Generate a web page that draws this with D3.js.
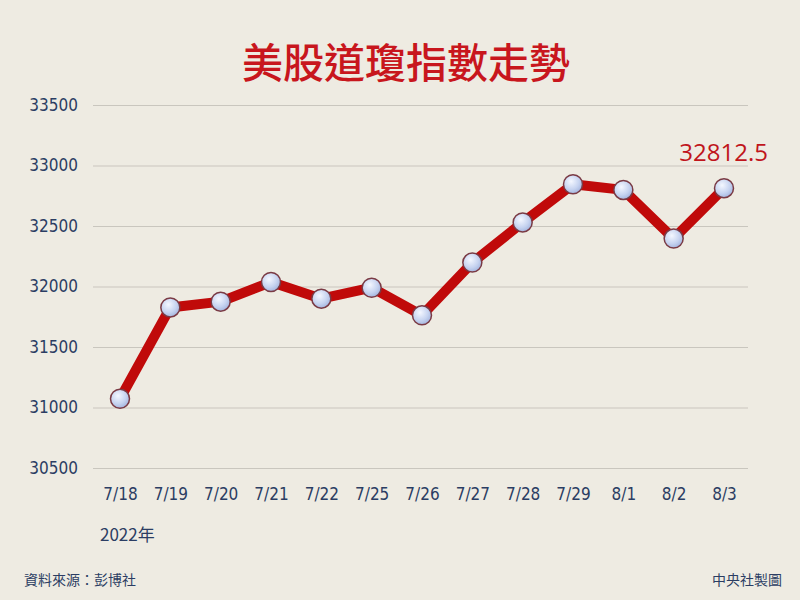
<!DOCTYPE html>
<html><head><meta charset="utf-8">
<script src="https://cdn.jsdelivr.net/npm/d3@7"></script>
<style>
body{margin:0;background:#eeebe2;}
svg{display:block;}
</style></head><body>
<svg id="c" width="800" height="600"></svg>
<script>
const categories = ["7/18","7/19","7/20","7/21","7/22","7/25","7/26","7/27","7/28","7/29","8/1","8/2","8/3"];
const values = [31072.61,31827.05,31874.84,32036.90,31899.29,31990.04,31761.54,32197.59,32529.63,32845.13,32798.40,32396.17,32812.50];
const yTicks = [30500,31000,31500,32000,32500,33000,33500];
const title = "美股道瓊指數走勢";
const lastLabel = "32812.5";

const svg = d3.select("#c");
svg.append("rect").attr("width",800).attr("height",600).attr("fill","#eeebe2");
const defs = svg.append("defs");
const g = defs.append("radialGradient").attr("id","mk").attr("cx","40%").attr("cy","35%").attr("r","70%");
g.append("stop").attr("offset","0%").attr("stop-color","#f4f7ff");
g.append("stop").attr("offset","60%").attr("stop-color","#c6d3f0");
g.append("stop").attr("offset","100%").attr("stop-color","#9fb1dc");

const navy = "#2b3d63";
const font = "'Liberation Sans Narrow','DejaVu Sans Condensed','Liberation Sans',sans-serif";

const x = d3.scalePoint().domain(categories).range([120,724]);
const y = d3.scaleLinear().domain([30500,33500]).range([468,105]);

svg.append("text").attr("x",406).attr("y",78).attr("text-anchor","middle")
  .attr("font-family","'Noto Sans CJK TC','Noto Sans CJK SC',sans-serif").attr("font-weight",500)
  .attr("font-size",41).attr("fill","#c8161d").text(title);

const yAxis = d3.axisLeft(y).tickValues(yTicks).tickSize(-655).tickFormat(d3.format("d")).tickPadding(15);
const ya = svg.append("g").attr("transform","translate(93,0)").call(yAxis);
ya.select(".domain").remove();
ya.selectAll(".tick line").attr("stroke","#c9c6be").attr("stroke-width",1.2);
ya.selectAll(".tick text").attr("font-family",font).attr("font-size",17).attr("fill",navy).attr("x",-15);

const xAxis = d3.axisBottom(x).tickSize(0).tickPadding(0);
const xa = svg.append("g").attr("transform","translate(0,500)").call(xAxis);
xa.select(".domain").remove();
xa.selectAll(".tick text").attr("font-family",font).attr("font-size",17).attr("fill",navy).attr("dy","0");

const line = d3.line().x((d,i)=>x(categories[i])).y(d=>y(d));
svg.append("path").datum(values).attr("d",line).attr("fill","none")
  .attr("stroke","#c00a0a").attr("stroke-width",10).attr("stroke-linejoin","round");

svg.selectAll("circle.m").data(values).enter().append("circle").attr("class","m")
  .attr("cx",(d,i)=>x(categories[i])).attr("cy",d=>y(d)).attr("r",9.5)
  .attr("fill","url(#mk)").attr("stroke","#7a3a44").attr("stroke-width",1.5);

svg.append("text").attr("x",768).attr("y",161).attr("text-anchor","end")
  .attr("font-family","'Open Sans','Noto Sans',sans-serif").attr("font-size",24).attr("fill","#c0151c")
  .text(lastLabel);

svg.append("text").attr("x",100).attr("y",541).attr("font-family","'Liberation Sans Narrow','Noto Sans CJK TC',sans-serif")
  .attr("font-size",17).attr("fill",navy).text("2022年");

svg.append("text").attr("x",24).attr("y",585).attr("font-family","'Noto Sans CJK TC',sans-serif")
  .attr("font-size",14).attr("fill",navy).text("資料來源：彭博社");
svg.append("text").attr("x",782).attr("y",585).attr("text-anchor","end").attr("font-family","'Noto Sans CJK TC',sans-serif")
  .attr("font-size",14).attr("fill",navy).text("中央社製圖");
</script>
</body></html>
